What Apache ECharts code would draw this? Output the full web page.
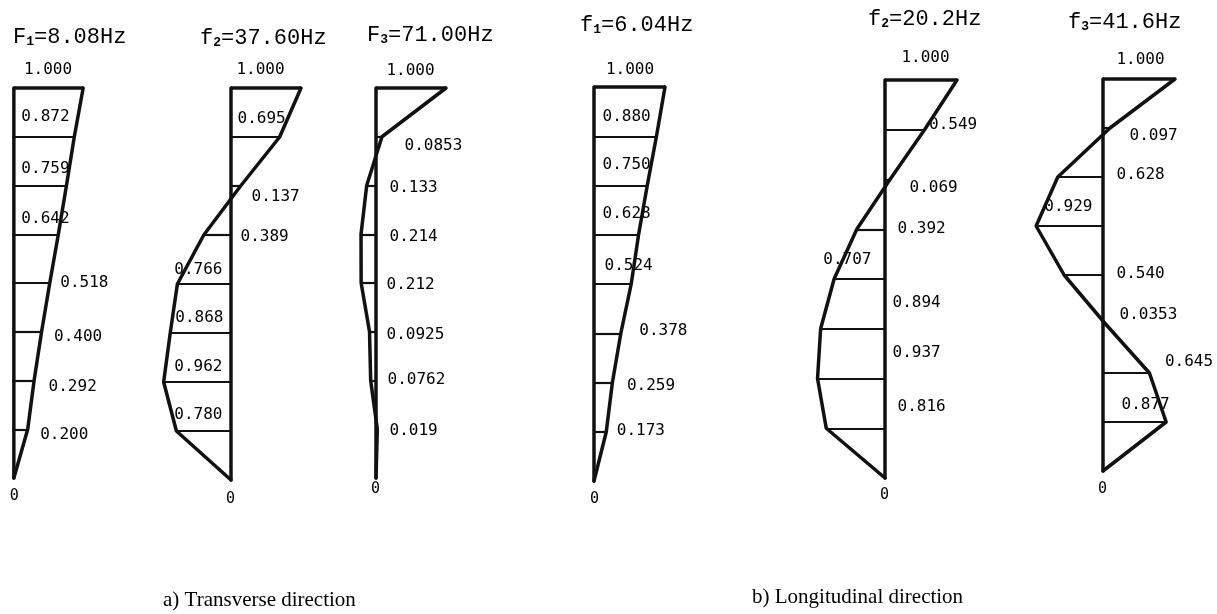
<!DOCTYPE html>
<html lang="en">
<head>
<meta charset="UTF-8">
<script src="https://cdn.jsdelivr.net/npm/echarts@6/dist/echarts.min.js"></script>
<style>
html, body { margin: 0; background: #fff; }
#chart { width: 1217px; height: 614px; }
</style>
</head>
<body>
<div id="chart"></div>
<script>
// mode shape ordinates, top floor first, base (0) last
var shapeT1 = [1.000, 0.872, 0.759, 0.642, 0.518, 0.400, 0.292, 0.200, 0];
var shapeT2 = [1.000, 0.695, 0.137, -0.389, -0.766, -0.868, -0.962, -0.780, 0];
var shapeT3 = [1.000, 0.0853, -0.133, -0.214, -0.212, -0.0925, -0.0762, 0.019, 0];
var shapeL1 = [1.000, 0.880, 0.750, 0.628, 0.524, 0.378, 0.259, 0.173, 0];
var shapeL2 = [1.000, 0.549, 0.069, -0.392, -0.707, -0.894, -0.937, -0.816, 0];
var shapeL3 = [1.000, 0.097, -0.628, -0.929, -0.540, 0.0353, 0.645, 0.877, 0];

var modeLetters = ['F', 'f', 'F', 'f', 'f', 'f'];
var modeNums = ['1', '2', '3', '1', '2', '3'];
var modeFreqs = ['8.08', '37.60', '71.00', '6.04', '20.2', '41.6'];
var captions = ['a) Transverse direction', 'b) Longitudinal direction'];

var shapes = [shapeT1, shapeT2, shapeT3, shapeL1, shapeL2, shapeL3];

// where each little diagram sits on the page
var layout = [
    {ax: 12,   top: 88, bottom: 478, s: 71, xMin: -0.2, tx: 13,   ty: 37},
    {ax: 231,  top: 88, bottom: 480, s: 70, xMin: -1.1, tx: 200,  ty: 38},
    {ax: 376,  top: 88, bottom: 478, s: 70, xMin: -1.1, tx: 367,  ty: 35},
    {ax: 594,  top: 87, bottom: 481, s: 71, xMin: -1.1, tx: 580,  ty: 25},
    {ax: 885,  top: 80, bottom: 478, s: 72, xMin: -1.1, tx: 868,  ty: 19},
    {ax: 1103, top: 79, bottom: 471, s: 72, xMin: -1.1, tx: 1068, ty: 22}
];

// label placement: anchor (t top, a axis/left-aligned, l axis/right-aligned, p profile, b base), dx, dy
var labelPlace = [
    [['t',0,-18],['a',8,-19],['a',8,-16],['a',8,-15],['p',11,0],['p',13,6],['p',15,7],['p',13,6],['b',1,19]],
    [['t',-5,-18],['a',7,-18],['a',21,11],['a',10,2],['l',-8,-14],['l',-7,-15],['l',-8,-15],['l',-8,-16],['b',0,20]],
    [['t',0,-17],['a',29,10],['a',14,3],['a',14,3],['a',11,2],['a',11,4],['a',12,0],['a',14,2],['b',0,12]],
    [['t',1,-17],['a',9,-19],['a',9,-20],['a',9,-20],['a',11,-18],['p',19,-2],['p',15,4],['p',11,0],['b',1,19]],
    [['t',5,-22],['p',5,-4],['a',25,9],['a',13,0],['l',-13,-19],['a',8,-25],['a',8,-25],['a',13,-21],['b',0,18]],
    [['t',2,-19],['a',27,8],['a',14,-2],['l',-10,-19],['a',14,-1],['a',17,-9],['p',16,-11],['a',19,-17],['b',0,19]]
];

var ink = '#000';
var monoFont = 'DejaVu Sans Mono';

function fmt(v) {
    if (v === 0) return '0';
    var s = String(Math.abs(v));
    var dot = s.indexOf('.');
    if (dot < 0 || s.length - dot - 1 < 3) s = Math.abs(v).toFixed(3);
    return s;
}

var grids = [], xAxes = [], yAxes = [], series = [], titles = [];

shapes.forEach(function (vals, i) {
    var L = layout[i];
    var xMax = 1.1;
    var nTop = vals.length - 1;
    grids.push({
        left: L.ax + L.xMin * L.s,
        width: (xMax - L.xMin) * L.s,
        top: L.top,
        height: L.bottom - L.top
    });
    xAxes.push({type: 'value', gridIndex: i, min: L.xMin, max: xMax, show: false});
    yAxes.push({type: 'value', gridIndex: i, min: 0, max: nTop, show: false});

    var pts = vals.map(function (v, k) { return [v, nTop - k]; });

    // vertical reference axis
    series.push({
        type: 'line', xAxisIndex: i, yAxisIndex: i, symbol: 'none', clip: false,
        data: [[0, 0], [0, nTop]],
        lineStyle: {color: '#111', width: 3.5, cap: 'round'}
    });
    // floor lines
    series.push({
        type: 'lines', coordinateSystem: 'cartesian2d', xAxisIndex: i, yAxisIndex: i, clip: false,
        data: pts.filter(function (p) { return p[1] > 0; }).map(function (p) {
            return {coords: [[0, p[1]], [p[0], p[1]]], lineStyle: {width: p[1] === nTop ? 3.5 : 2.2}};
        }),
        lineStyle: {color: '#111', width: 2.2, opacity: 1, curveness: 0}
    });
    // mode shape profile
    series.push({
        type: 'line', xAxisIndex: i, yAxisIndex: i, symbol: 'none', clip: false,
        data: pts,
        lineStyle: {color: '#111', width: 3.5, cap: 'round', join: 'round'}
    });
    // value labels
    series.push({
        type: 'scatter', xAxisIndex: i, yAxisIndex: i, symbolSize: 1, clip: false,
        itemStyle: {color: 'transparent', opacity: 1},
        silent: true,
        data: pts.map(function (p, k) {
            var pl = labelPlace[i][k];
            var anchor;
            if (pl[0] === 't') anchor = [p[0] / 2, p[1]];
            else if (pl[0] === 'p') anchor = [p[0], p[1]];
            else anchor = [0, p[1]];
            var align = (pl[0] === 't' || pl[0] === 'b') ? 'center' : (pl[0] === 'l' ? 'right' : 'left');
            return {
                name: fmt(p[0]),
                value: anchor,
                label: {
                    show: true,
                    formatter: '{b}',
                    position: [pl[1], pl[2]],
                    align: align,
                    verticalAlign: 'middle',
                    color: ink,
                    fontFamily: monoFont,
                    fontSize: pl[0] === 'b' ? 15 : 16
                }
            };
        })
    });

    titles.push({
        left: L.tx, top: L.ty - 11, padding: 0,
        text: '{m|' + modeLetters[i] + '}{s|' + modeNums[i] + '}{m|=' + modeFreqs[i] + 'Hz}',
        textStyle: {
            fontWeight: 'normal',
            rich: {
                m: {fontFamily: 'Liberation Mono', fontSize: 22, lineHeight: 22, fontWeight: 'normal', color: ink},
                s: {fontFamily: 'Liberation Mono', fontSize: 13, lineHeight: 14, verticalAlign: 'bottom', color: ink, fontWeight: 'bold'}
            }
        }
    });
});

titles.push({
    left: 163, top: 590, padding: 0, text: captions[0],
    textStyle: {fontFamily: 'Liberation Serif', fontSize: 21, fontWeight: 'normal', color: ink}
});
titles.push({
    left: 752, top: 587, padding: 0, text: captions[1],
    textStyle: {fontFamily: 'Liberation Serif', fontSize: 21, fontWeight: 'normal', color: ink}
});

var chart = echarts.init(document.getElementById('chart'));
chart.setOption({
    backgroundColor: '#fff',
    animation: false,
    title: titles,
    grid: grids,
    xAxis: xAxes,
    yAxis: yAxes,
    series: series
});
</script>
</body>
</html>
